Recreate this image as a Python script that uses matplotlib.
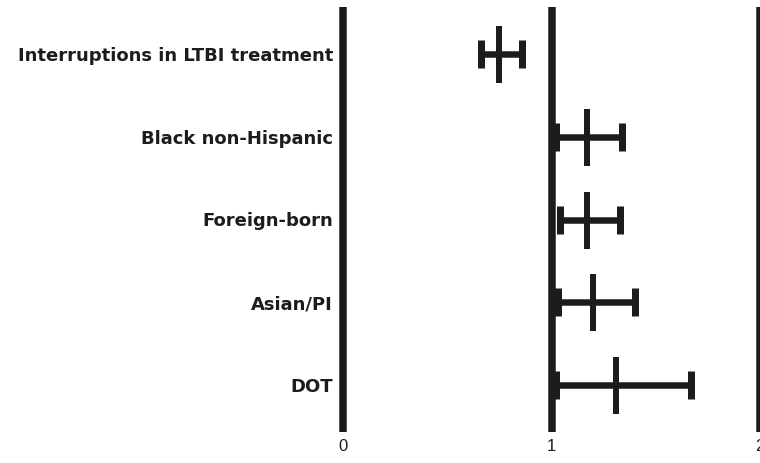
import matplotlib
matplotlib.use("Agg")
import matplotlib.pyplot as plt

# Odds ratios with 95% confidence intervals
labels = [
    "Interruptions in LTBI treatment",
    "Black non-Hispanic",
    "Foreign-born",
    "Asian/PI",
    "DOT",
]
estimate = [0.75, 1.17, 1.17, 1.20, 1.31]
ci_low = [0.66, 1.02, 1.04, 1.03, 1.02]
ci_high = [0.86, 1.34, 1.33, 1.40, 1.67]

x_ticks = [0, 1, 2]
x_tick_labels = ["0", "1", "2"]

INK = "#1e1b1c"
DPI = 100
W, H = 760, 463

fig = plt.figure(figsize=(W / DPI, H / DPI), dpi=DPI)
fig.patch.set_facecolor("white")

# axes: x=0 at 343 px, x=2 at 760 px; vertical extent 7..432 px from top
left_px, right_px = 343, 760
top_px, bottom_px = 7, 432
ax = fig.add_axes([left_px / W, (H - bottom_px) / H,
                   (right_px - left_px) / W, (bottom_px - top_px) / H])

row_first, row_step = 54, 82.75
ymin = (top_px - row_first) / row_step
ymax = (bottom_px - row_first) / row_step
ax.set_xlim(0, 2)
ax.set_ylim(ymax, ymin)

pt = 72 / DPI  # points per pixel

for xv in x_ticks:
    ax.axvline(xv, color=INK, lw=7.5 * pt, solid_capstyle="butt",
               clip_on=False, zorder=1)

ypos = list(range(len(labels)))
xerr = [[e - lo for e, lo in zip(estimate, ci_low)],
        [hi - e for e, hi in zip(estimate, ci_high)]]
ax.errorbar(estimate, ypos, xerr=xerr, fmt="none", ecolor=INK,
            elinewidth=6.5 * pt, capsize=14 * pt, capthick=7 * pt, zorder=2)
ax.plot(estimate, ypos, linestyle="none", marker="|", color=INK,
        markersize=57 * pt, markeredgewidth=6 * pt, zorder=3)

for s in ax.spines.values():
    s.set_visible(False)

ax.set_yticks(ypos)
ax.set_yticklabels(labels, fontfamily="DejaVu Sans", fontweight="bold",
                   fontsize=13, color=INK)
ax.tick_params(axis="y", length=0, pad=10 * pt)

ax.set_xticks(x_ticks)
ax.set_xticklabels(x_tick_labels, fontfamily="Liberation Sans", fontsize=12,
                   color=INK)
ax.tick_params(axis="x", length=0, pad=7 * pt)

fig.savefig("out.png", dpi=DPI, facecolor="white")
